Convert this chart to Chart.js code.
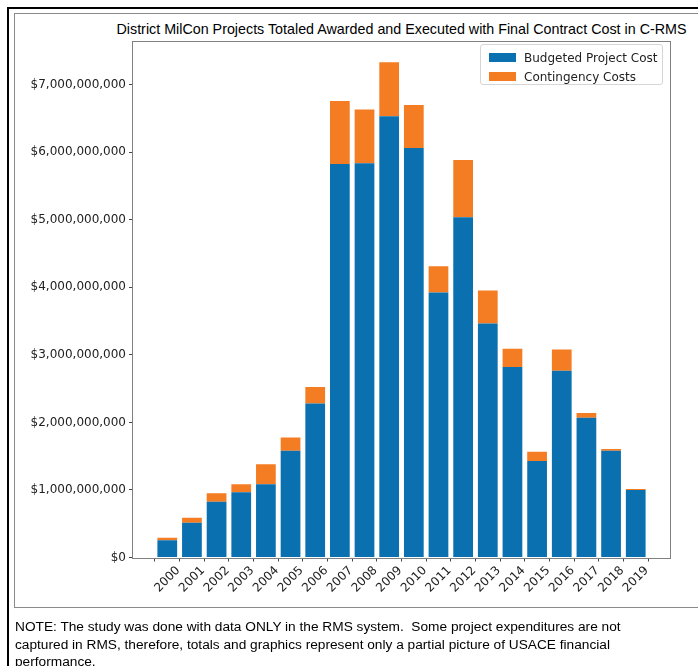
<!DOCTYPE html>
<html>
<head>
<meta charset="utf-8">
<script src="https://cdn.jsdelivr.net/npm/chart.js@4.4.1/dist/chart.umd.min.js"></script>
<style>
  html, body { margin:0; padding:0; background:#fff; width:698px; height:666px; overflow:hidden; position:relative; }
  #frame { position:absolute; left:7px; top:7px; width:720px; height:700px; border-top:2px solid #000; border-left:2px solid #000; }
  #panel { position:absolute; left:14px; top:13px; width:720px; height:593px; border:1px solid #8a8a8a; border-right:none; }
  #title { position:absolute; left:51.5px; width:700px; top:21px; text-align:center; font:14.3px "Liberation Sans", Arial, sans-serif; color:#000; white-space:nowrap; }
  #chart { position:absolute; left:0; top:0; }
  #legend { position:absolute; left:480px; top:44px; width:183px; height:41px; border:1px solid #d6d6d6; border-radius:3px; background:rgba(255,255,255,0.85); box-sizing:border-box; padding:3px 0 0 8px; font:12px "DejaVu Sans", sans-serif; color:#222; }
  #legend .item { height:19px; display:flex; align-items:center; white-space:nowrap; }
  #legend .sw { width:27px; height:9px; margin-right:8px; flex:none; }
  #note { position:absolute; left:15px; top:618px; width:690px; font:13.7px "Liberation Sans", Arial, sans-serif; line-height:17.5px; color:#000; white-space:nowrap; }
</style>
</head>
<body>
<div id="frame"></div>
<div id="panel"></div>
<div id="title">District MilCon Projects Totaled Awarded and Executed with Final Contract Cost in C-RMS</div>
<canvas id="chart" width="698" height="666"></canvas>
<div id="legend"></div>
<div id="note">NOTE: The study was done with data ONLY in the RMS system.&nbsp; Some project expenditures are not<br>captured in RMS, therefore, totals and graphics represent only a partial picture of USACE financial<br>performance.</div>
<script>
// Fiscal years on the x axis
const years = ['2000','2001','2002','2003','2004','2005','2006','2007','2008','2009',
               '2010','2011','2012','2013','2014','2015','2016','2017','2018','2019'];

// Budgeted project cost per year (USD)
const budgeted = [254e6, 515e6, 825e6, 964e6, 1083e6, 1580e6, 2281e6, 5825e6, 5835e6, 6530e6,
                  6062e6, 3923e6, 5037e6, 3464e6, 2818e6, 1428e6, 2763e6, 2068e6, 1580e6, 999e6];

// Contingency costs per year (USD), stacked on top of the budget
const contingency = [39e6, 74e6, 125e6, 119e6, 296e6, 198e6, 241e6, 932e6, 795e6, 800e6,
                     636e6, 389e6, 848e6, 489e6, 271e6, 137e6, 317e6, 70e6, 25e6, 14e6];

// Dollar ticks on the y axis
const yTickValues = [0, 1e9, 2e9, 3e9, 4e9, 5e9, 6e9, 7e9];

const seriesNames = ['Budgeted Project Cost', 'Contingency Costs'];
const seriesColors = ['#0b70b0', '#f47c22'];

const toPoints = arr => arr.map((v, i) => ({ x: i, y: v }));

// Thin frame around the plotting area
const plotFrame = {
  id: 'plotFrame',
  afterDatasetsDraw(chart) {
    const { ctx, chartArea: a } = chart;
    ctx.save();
    ctx.strokeStyle = '#808080';
    ctx.lineWidth = 1;
    ctx.strokeRect(Math.round(a.left) - 0.5, Math.round(a.top) + 0.5,
                   Math.round(a.right - a.left) + 1, Math.round(a.bottom - a.top));
    ctx.restore();
  }
};

const tickFont = { family: '"DejaVu Sans", sans-serif', size: 12 };

const chart = new Chart(document.getElementById('chart'), {
  type: 'bar',
  data: {
    datasets: [
      { label: seriesNames[0], data: toPoints(budgeted), backgroundColor: seriesColors[0], borderWidth: 0 },
      { label: seriesNames[1], data: toPoints(contingency), backgroundColor: seriesColors[1], borderWidth: 0 }
    ]
  },
  options: {
    responsive: false,
    devicePixelRatio: 1,
    animation: false,
    layout: { padding: { left: 0, top: 41, right: 28, bottom: 48.5 } },
    datasets: { bar: { barPercentage: 0.8, categoryPercentage: 1.0 } },
    plugins: { legend: { display: false }, title: { display: false }, tooltip: { enabled: false } },
    scales: {
      x: {
        type: 'linear',
        min: -1.39,
        max: 20.39,
        stacked: true,
        offset: false,
        grid: { drawOnChartArea: false, drawTicks: true, tickLength: 4, tickColor: '#444' },
        border: { display: false },
        afterBuildTicks: s => { s.ticks = years.map((_, i) => ({ value: i })); },
        afterFit: s => { s.height = 60; },
        ticks: {
          autoSkip: false,
          minRotation: 45,
          maxRotation: 45,
          color: '#222',
          font: tickFont,
          padding: 2,
          labelOffset: 11,
          callback: v => years[v]
        }
      },
      y: {
        type: 'linear',
        min: 0,
        max: 7.645e9,
        stacked: true,
        grid: { drawOnChartArea: false, drawTicks: true, tickLength: 4, tickColor: '#444' },
        border: { display: false },
        afterBuildTicks: s => { s.ticks = yTickValues.map(v => ({ value: v })); },
        afterFit: s => { s.width = 133; },
        ticks: {
          color: '#222',
          font: tickFont,
          padding: 3,
          callback: v => '$' + Number(v).toLocaleString('en-US')
        }
      }
    }
  },
  plugins: [plotFrame]
});

// Legend built from the chart's datasets
const legend = document.getElementById('legend');
chart.data.datasets.forEach(ds => {
  const item = document.createElement('div');
  item.className = 'item';
  const sw = document.createElement('span');
  sw.className = 'sw';
  sw.style.background = ds.backgroundColor;
  const txt = document.createElement('span');
  txt.textContent = ds.label;
  item.appendChild(sw);
  item.appendChild(txt);
  legend.appendChild(item);
});
</script>
</body>
</html>
